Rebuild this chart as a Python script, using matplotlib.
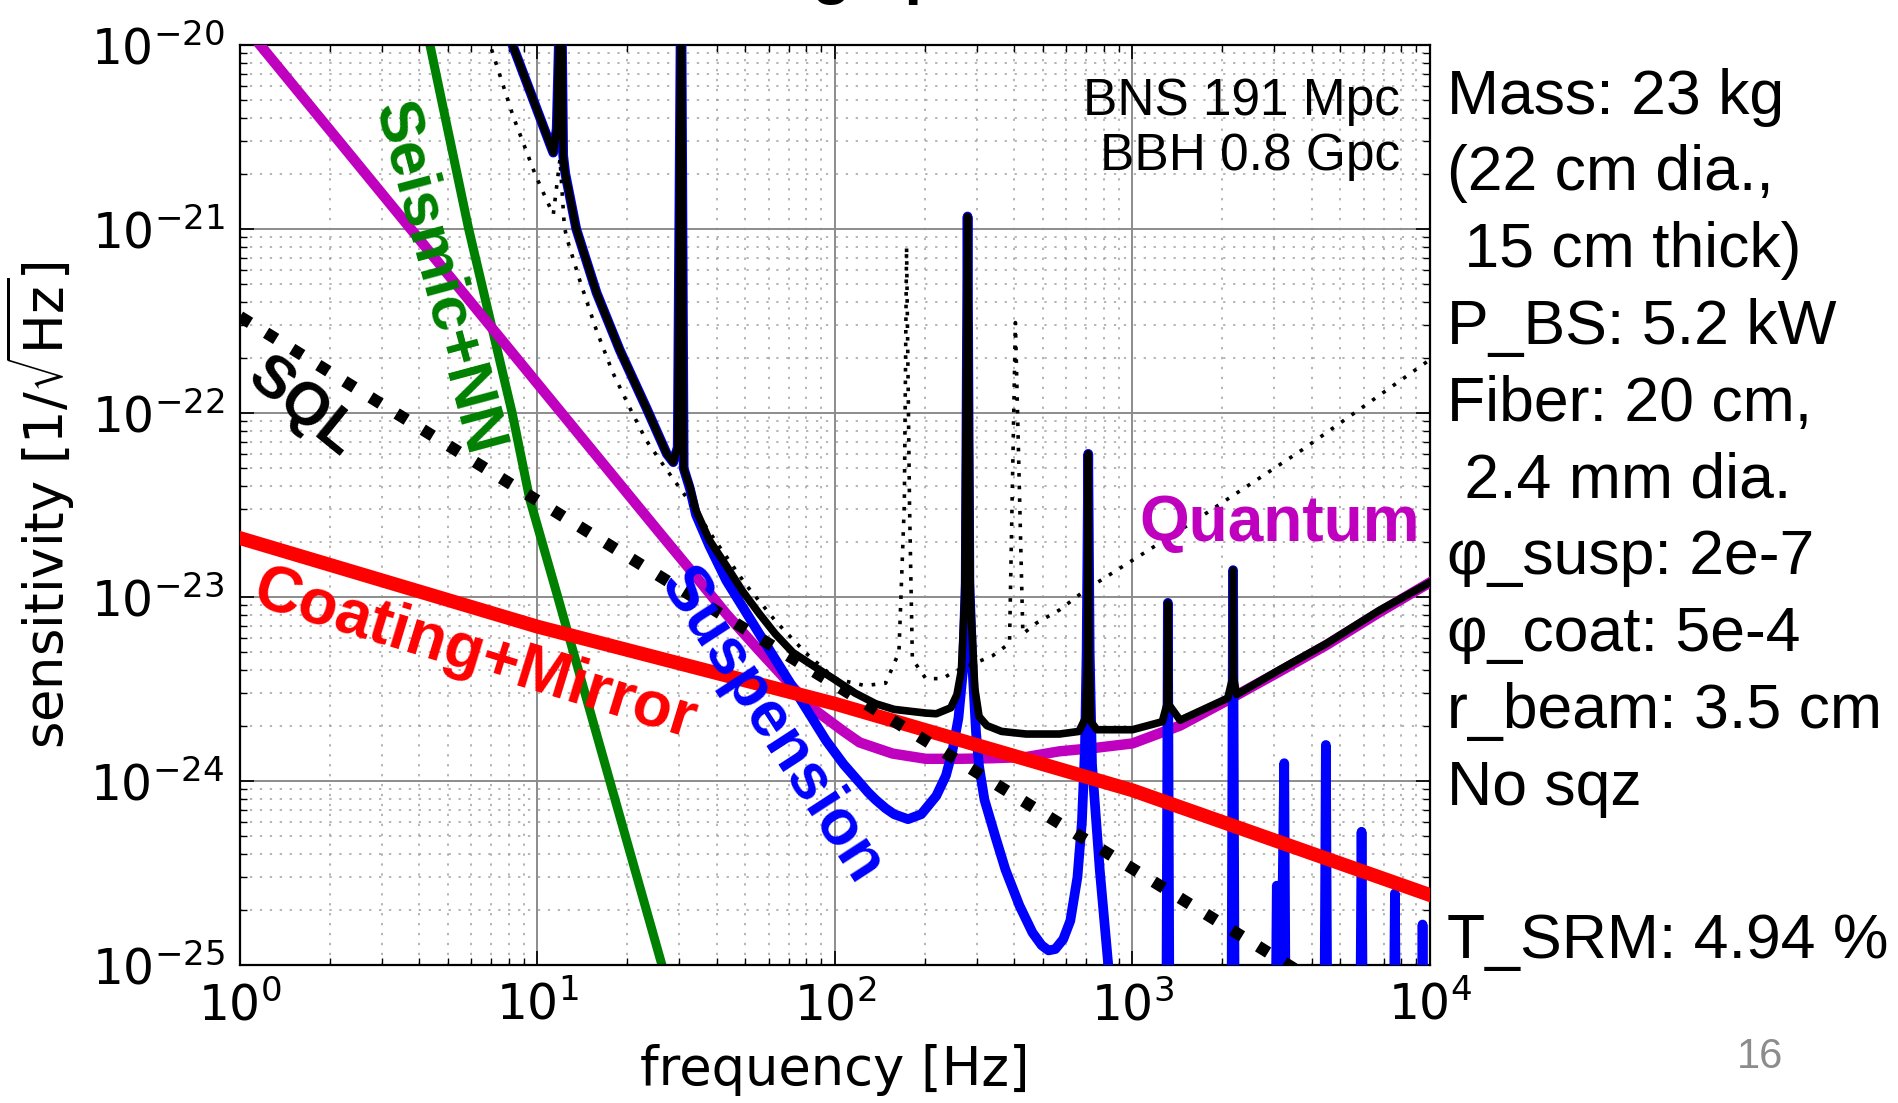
import matplotlib
matplotlib.use("Agg")
import matplotlib.pyplot as plt
from matplotlib.ticker import LogLocator, NullFormatter

plt.rcParams["axes.unicode_minus"] = False
plt.rcParams["mathtext.fontset"] = "dejavusans"

# total noise (black)
total_f = [7.9, 11.1, 11.3, 11.6, 12.0, 12.2, 12.4, 13.5, 15.8, 18.9, 23.2, 27.2, 28.6,
           29.6, 30.4, 31.0, 32.5, 34.1, 37.8, 43.1, 49, 55.7, 63, 72.1, 85, 100, 117,
           137, 158, 202, 219, 245, 257, 266, 273, 279, 285, 295, 305, 324, 363, 439,
           568, 661, 695, 704, 710, 716, 725, 759, 1000, 1259, 1305, 1315, 1325, 1445,
           2090, 2168, 2178, 2188, 2240, 3160, 4500, 6790, 10000]
total_h = [1.2e-20, 2.8e-21, 2.6e-21, 3.5e-21, 3e-20, 2.5e-21, 2.0e-21, 1.0e-21, 4.5e-22,
           2.2e-22, 1.07e-22, 6.0e-23, 5.4e-23, 6.5e-23, 3e-20, 5.0e-23, 4.0e-23, 2.95e-23,
           2.04e-23, 1.48e-23, 1.07e-23, 8.1e-24, 6.3e-24, 5.0e-24, 4.2e-24, 3.55e-24,
           3.0e-24, 2.63e-24, 2.45e-24, 2.34e-24, 2.32e-24, 2.5e-24, 2.95e-24, 4.0e-24,
           1.0e-23, 1.17e-21, 1.0e-23, 3.2e-24, 2.24e-24, 2.0e-24, 1.86e-24, 1.8e-24,
           1.8e-24, 1.86e-24, 2.2e-24, 4.5e-24, 6.0e-23, 4.5e-24, 2.1e-24, 1.9e-24,
           1.9e-24, 2.1e-24, 2.6e-24, 9.3e-24, 2.6e-24, 2.14e-24, 2.82e-24, 3.6e-24,
           1.4e-23, 3.6e-24, 2.95e-24, 4.07e-24, 5.6e-24, 8.5e-24, 1.2e-23]

# suspension thermal (blue)
susp_f = [7.9, 11.1, 11.3, 11.6, 12.0, 12.2, 12.4, 13.5, 15.8, 18.9, 23.2, 27.2, 28.6,
          29.6, 30.4, 31.0, 32.5, 34.1, 37.8, 43.1, 55.7, 72.1, 93.3, 107, 121, 129,
          137, 148, 158, 176, 195, 219, 236, 248, 260, 269, 275, 279, 283, 290, 298,
          305, 318, 347, 374, 417, 461, 495, 522, 550, 585, 618, 653, 676, 692, 701, 710,
          718, 731, 776, 828, 891,
          1295, 1315, 1336, 2144, 2178, 2213, 3006, 3055, 3141, 3236, 3289,
          4395, 4467, 4539, 5794, 5888, 5984, 7499, 7621, 7745, 9290, 9441, 9594, 10000]
susp_h = [1.2e-20, 2.8e-21, 2.6e-21, 3.5e-21, 3e-20, 2.5e-21, 2.0e-21, 1.0e-21, 4.5e-22,
          2.2e-22, 1.07e-22, 6.0e-23, 5.4e-23, 6.5e-23, 3e-20, 5.0e-23, 3.9e-23, 2.8e-23,
          1.9e-23, 1.23e-23, 6.3e-24, 3.24e-24, 1.66e-24, 1.23e-24, 9.8e-25, 8.7e-25,
          7.9e-25, 7.1e-25, 6.6e-25, 6.2e-25, 6.6e-25, 8.3e-25, 1.07e-24, 1.45e-24,
          2.2e-24, 3.9e-24, 1.2e-23, 1.17e-21, 1.2e-23, 4.0e-24, 1.82e-24, 1.2e-24,
          7.9e-25, 4.9e-25, 3.3e-25, 2.1e-25, 1.5e-25, 1.28e-25, 1.2e-25, 1.22e-25,
          1.38e-25, 1.74e-25, 3.0e-25, 6.0e-25, 1.5e-24, 5.0e-24, 6.0e-23, 5.0e-24,
          1.23e-24, 3.3e-25, 1.02e-25, 3.2e-26,
          1e-26, 9.3e-24, 1e-26, 1e-26, 1.4e-23, 1e-26, 1e-26, 2.7e-25, 3e-26, 1.25e-24, 1e-26,
          1e-26, 1.57e-24, 1e-26, 1e-26, 5.3e-25, 1e-26, 1e-26, 2.45e-25, 1e-26,
          1e-26, 1.66e-25, 1e-26, 1e-26]

# quantum (magenta)
quantum_f = [1, 25.7, 33.3, 43.1, 55.7, 72.1, 85, 107, 121, 156, 202, 262, 339, 439, 568,
             741, 1000, 1445, 2090, 3160, 4500, 6790, 10000]
quantum_h = [1.36e-20, 2.24e-23, 1.35e-23, 8.1e-24, 5.1e-24, 3.24e-24, 2.45e-24, 1.86e-24,
             1.62e-24, 1.41e-24, 1.32e-24, 1.32e-24, 1.33e-24, 1.35e-24, 1.45e-24,
             1.51e-24, 1.6e-24, 2.0e-24, 2.75e-24, 3.98e-24, 5.5e-24, 8.3e-24, 1.2e-23]

# seismic + newtonian noise (green)
seismic_f = [4.0, 4.35, 5.87, 8.22, 9.42, 11.7, 17.5, 26.2, 28.5]
seismic_h = [1.95e-20, 1e-20, 1e-21, 1e-22, 3.4e-23, 1e-23, 1e-24, 1e-25, 6.2e-26]

# coating + mirror thermal (red)
coating_f = [1, 10, 100, 1000, 10000]
coating_h = [2.09e-23, 6.9e-24, 2.63e-24, 8.9e-25, 2.4e-25]

# standard quantum limit (black dashed)
sql_f = [1, 10000]
sql_h = [3.34e-22, 3.34e-26]

# reference design (thin dotted)
ref_f = [6.8, 8.28, 9.8, 10.7, 11.3, 11.9, 12.3, 12.5, 13.9, 15.8, 17.9, 20.4, 23.2, 27.2,
         31.6, 39.8, 50.1, 63.1, 79.4, 100, 126, 148, 164, 171, 174, 178, 182, 202, 230,
         249, 298, 339, 386, 404, 428, 474, 568, 700, 1072, 1622, 3715, 9772]
ref_h = [1.1e-20, 4.1e-21, 2.0e-21, 1.45e-21, 1.2e-21, 2.4e-21, 1.05e-21, 9.1e-22, 5.2e-22,
         2.8e-22, 1.66e-22, 1.07e-22, 7.1e-23, 4.9e-23, 3.5e-23, 2.0e-23, 1.17e-23, 7.4e-24,
         5.0e-24, 3.6e-24, 3.3e-24, 3.4e-24, 5.0e-24, 3.2e-23, 8e-22, 3.2e-23, 4.6e-24,
         3.6e-24, 3.6e-24, 3.9e-24, 4.4e-24, 4.8e-24, 5.6e-24, 3.1e-22, 6.3e-24, 7.2e-24,
         8.5e-24, 1.1e-23, 1.7e-23, 2.6e-23, 6.3e-23, 1.9e-22]

side_lines = ["Mass: 23 kg", "(22 cm dia.,", " 15 cm thick)", "P_BS: 5.2 kW",
              "Fiber: 20 cm,", " 2.4 mm dia.", "\u03c6_susp: 2e-7", "\u03c6_coat: 5e-4",
              "r_beam: 3.5 cm", "No sqz", "", "T_SRM: 4.94 %"]

W, H = 1899, 1103
fig = plt.figure(figsize=(W / 100, H / 100), dpi=100)
ax = fig.add_axes([240 / W, 1 - 965 / H, 1190 / W, 920 / H])

ax.plot(seismic_f, seismic_h, color="#008000", lw=6.5, zorder=2)
ax.plot(quantum_f, quantum_h, color="#bf00bf", lw=7.5, zorder=3)
ax.plot(susp_f, susp_h, color="#0000ff", lw=7, zorder=4)
ax.plot(coating_f, coating_h, color="#ff0000", lw=10, zorder=5)
ax.plot(sql_f, sql_h, color="black", lw=8.5, ls=(0, (1, 1.6)), zorder=6)
ax.plot(ref_f, ref_h, color="black", lw=2.6, ls=(0, (1, 2.5)), zorder=6)
ax.plot(total_f, total_h, color="black", lw=5.5, zorder=7)

ax.set_xscale("log")
ax.set_yscale("log")
ax.set_xlim(1, 1e4)
ax.set_ylim(1e-25, 1e-20)

ax.xaxis.set_major_locator(LogLocator(base=10, numticks=10))
ax.yaxis.set_major_locator(LogLocator(base=10, numticks=10))
ax.xaxis.set_minor_locator(LogLocator(base=10, subs=range(2, 10), numticks=20))
ax.yaxis.set_minor_locator(LogLocator(base=10, subs=range(2, 10), numticks=20))
ax.xaxis.set_minor_formatter(NullFormatter())
ax.yaxis.set_minor_formatter(NullFormatter())

ax.set_axisbelow(True)
ax.grid(True, which="major", color="#8c8c8c", lw=1.4, ls="-")
ax.grid(True, which="minor", color="#a0a0a0", lw=1.1, ls=(0, (1.5, 5)))
ax.tick_params(which="both", direction="in", top=True, right=True, labelsize=35)
ax.tick_params(which="major", length=10, width=1.2)
ax.tick_params(which="minor", length=5, width=1)
ax.tick_params(axis="x", pad=12)
ax.tick_params(axis="y", pad=11)
for sp in ax.spines.values():
    sp.set_linewidth(1.6)

ax.set_xlabel("frequency [Hz]", fontsize=38, labelpad=10)
ax.set_ylabel("sensitivity [1/$\\sqrt{\\rm Hz}$]", fontsize=38, labelpad=10)

lab = dict(family="Liberation Sans", fontweight="bold", ha="center", va="center",
           rotation_mode="anchor", zorder=10)
ax.text(4.63, 5.4e-22, "Seismic+NN", color="#008000", fontsize=45, rotation=-75, **lab)
ax.text(1.62, 1.07e-22, "SQL", color="black", fontsize=43, rotation=-39, **lab)
ax.text(3133, 2.5e-23, "Quantum", color="#bf00bf", fontsize=46, rotation=0, **lab)
ax.text(6.17, 4.8e-24, "Coating+Mirror", color="#ff0000", fontsize=46, rotation=-17, **lab)
ax.text(61, 2.0e-24, "Suspension", color="#0000ff", fontsize=46, rotation=-57, **lab)

ax.text(0.975, 0.965, "BNS 191 Mpc\nBBH 0.8 Gpc", transform=ax.transAxes, ha="right",
        va="top", family="Liberation Sans", fontsize=37, linespacing=1.15, zorder=10)

for i, line in enumerate(side_lines):
    fig.text(1447 / W, 1 - (97 + 76.8 * i) / H, line, family="Liberation Sans",
             fontsize=45, ha="left", va="center")

fig.text(1760 / W, 1 - 1057 / H, "16", color="#8c8c8c", family="Liberation Sans",
         fontsize=30, ha="center", va="center")
fig.text(560 / W, 1 + 8 / H, "Resulting spectrum", family="Liberation Sans",
         fontweight="bold", fontsize=46, ha="left", va="baseline")

fig.savefig("out.png", dpi=100)
